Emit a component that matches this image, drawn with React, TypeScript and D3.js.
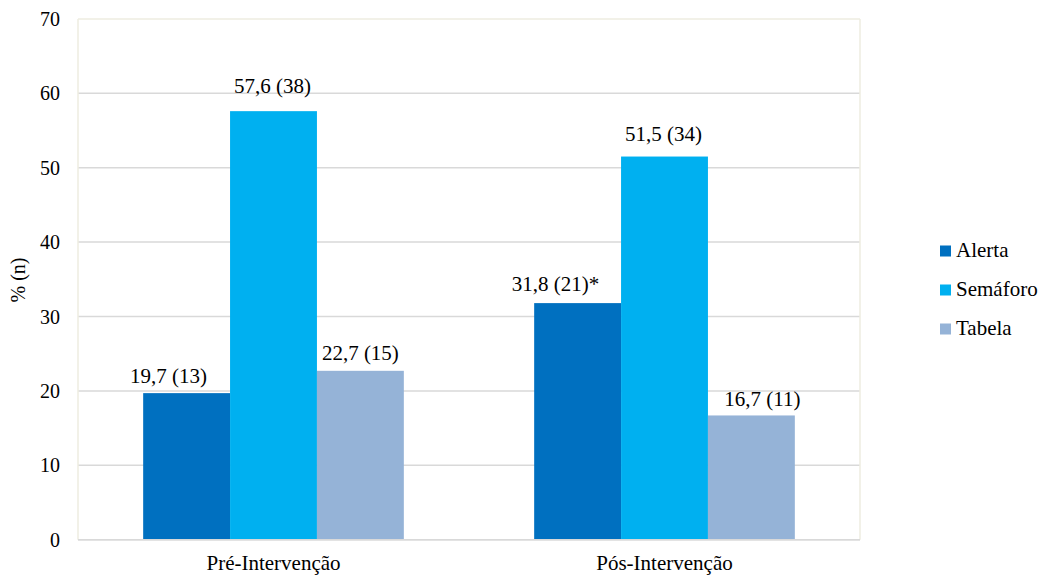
import React from "react";
import * as d3 from "d3";

const categories = ["Pré-Intervenção", "Pós-Intervenção"];
const seriesNames = ["Alerta", "Semáforo", "Tabela"];
const alertaValues = [19.7, 31.8];
const semaforoValues = [57.6, 51.5];
const tabelaValues = [22.7, 16.7];
const alertaN = [13, 21];
const semaforoN = [38, 34];
const tabelaN = [15, 11];
const alertaMark = ["", "*"];
const semaforoMark = ["", ""];
const tabelaMark = ["", ""];
const yTicks = [0, 10, 20, 30, 40, 50, 60, 70];

const seriesValues = [alertaValues, semaforoValues, tabelaValues];
const seriesN = [alertaN, semaforoN, tabelaN];
const seriesMarks = [alertaMark, semaforoMark, tabelaMark];
const colors = ["#0070C0", "#00B0F0", "#95B3D7"];

// manual label nudges (dx, dy), indexed [series][category]
const labelNudge: [number, number][][] = [
  [[-18, 0], [-22, -2]],
  [[-1, -8], [-1, -6]],
  [[0, -1], [11, 1]],
];

const W = 1041;
const H = 575;
const plot = { left: 78, right: 860, top: 18.9, bottom: 539.7 };
const SERIF = "Times New Roman";

const fmt = (v: number) => v.toFixed(1).replace(".", ",");

export default function App() {
  const x0 = d3.scaleBand<string>().domain(categories).range([plot.left, plot.right]).padding(0);
  const groupW = x0.bandwidth() * (2 / 3);
  const x1 = d3.scaleBand<string>().domain(seriesNames).range([0, groupW]).padding(0);
  const y = d3.scaleLinear().domain([0, 70]).range([plot.bottom, plot.top]);

  const texts: { k: string; x: number; y: number; s: number; a: string; t: string; tr?: string }[] = [];
  yTicks.forEach((t) => texts.push({ k: "t" + t, x: 60, y: y(t) + 7, s: 20, a: "end", t: String(t) }));
  categories.forEach((c, ci) => {
    const gx = (x0(c) ?? 0) + (x0.bandwidth() - groupW) / 2;
    seriesNames.forEach((s, si) => {
      const v = seriesValues[si][ci];
      const cx = gx + (x1(s) ?? 0) + x1.bandwidth() / 2;
      const [dx, dy] = labelNudge[si][ci];
      texts.push({
        k: "l" + c + s,
        x: cx + dx,
        y: y(v) - 10 + dy,
        s: 21,
        a: "middle",
        t: `${fmt(v)} (${seriesN[si][ci]})${seriesMarks[si][ci]}`,
      });
    });
    texts.push({ k: "c" + c, x: (x0(c) ?? 0) + x0.bandwidth() / 2, y: 570, s: 21, a: "middle", t: c });
  });
  texts.push({ k: "yt", x: 0, y: 0, s: 20, a: "middle", t: "% (n)", tr: "translate(25, 280) rotate(-90)" });
  seriesNames.forEach((s, i) =>
    texts.push({ k: "lg" + s, x: 956, y: 256.5 + i * 39, s: 21, a: "start", t: s })
  );

  return (
    <svg width={W} height={H} style={{ position: "absolute", left: 0, top: 0 }}>
      {yTicks.map((t) => (
        <line
          key={"g" + t}
          x1={plot.left}
          x2={plot.right}
          y1={y(t)}
          y2={y(t)}
          stroke={t === 70 ? "#EEECE1" : "#D9D9D9"}
          strokeWidth={1.5}
        />
      ))}
      <line x1={plot.left} x2={plot.left} y1={plot.top} y2={plot.bottom} stroke="#EEECE1" strokeWidth={1.5} />
      <line x1={plot.right} x2={plot.right} y1={plot.top} y2={plot.bottom} stroke="#EEECE1" strokeWidth={1.5} />
      {categories.map((c, ci) => {
        const gx = (x0(c) ?? 0) + (x0.bandwidth() - groupW) / 2;
        return seriesNames.map((s, si) => {
          const v = seriesValues[si][ci];
          return (
            <rect
              key={c + s}
              x={gx + (x1(s) ?? 0)}
              y={y(v)}
              width={x1.bandwidth()}
              height={y(0) - y(v)}
              fill={colors[si]}
            />
          );
        });
      })}
      <line x1={plot.left} x2={plot.right} y1={y(0)} y2={y(0)} stroke="#D9D9D9" strokeWidth={1.5} />
      {seriesNames.map((s, i) => (
        <rect key={"sw" + s} x={940} y={245.5 + i * 39} width={11} height={11} fill={colors[i]} />
      ))}
      {texts.map((d) => (
        <text
          key={d.k}
          x={d.x}
          y={d.y}
          fontSize={d.s}
          textAnchor={d.a}
          transform={d.tr}
          fill="#000"
          fontFamily={SERIF}
        >
          {d.t}
        </text>
      ))}
    </svg>
  );
}
